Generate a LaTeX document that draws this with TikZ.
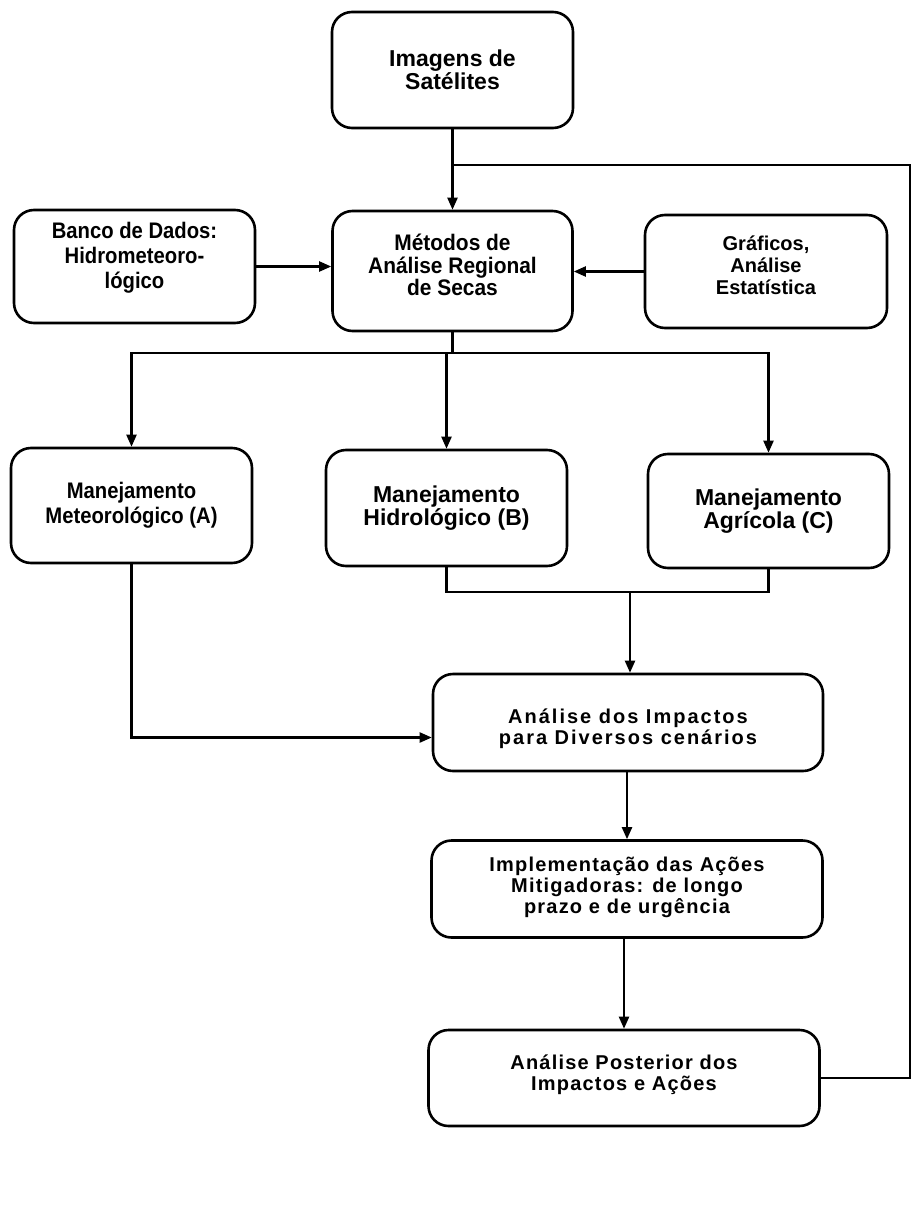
\documentclass[tikz,border=0pt]{standalone}
\usepackage{fontspec}
\setmainfont{Liberation Sans}
\newfontfamily\narrowf{Liberation Sans}[FakeStretch=0.9]
\newfontfamily\metf{Liberation Sans}[FakeStretch=0.93]
\newfontfamily\widef{Liberation Sans}[LetterSpace=6]
\newfontfamily\widerf{Liberation Sans}[LetterSpace=10]
\usetikzlibrary{arrows.meta}
\begin{document}
\begin{tikzpicture}[x=1pt,y=-1pt,
  box/.style={draw,line width=2.6pt,rounded corners=20pt,inner sep=0pt},
  txt/.style={align=center,inner sep=0pt},
  nfont/.style={font=\narrowf\fontsize{22.5}{25}\selectfont\bfseries},
  rfont/.style={font=\fontsize{23}{23}\selectfont\bfseries},
  wfont/.style={font=\widef\fontsize{20}{21}\selectfont\bfseries},
  conn/.style={line width=2.2pt},
  arr/.style={conn,-{Triangle[length=12pt,width=10pt]}},
]
\useasboundingbox (0,0) rectangle (912,1220);

% boxes
\node[box,minimum width=241pt,minimum height=116pt] (sat) at (452.5,70) {};
\node[box,minimum width=241pt,minimum height=113pt] (banco) at (134.5,266.5) {};
\node[box,minimum width=240pt,minimum height=120pt] (met) at (452.5,271) {};
\node[box,minimum width=242pt,minimum height=113pt] (graf) at (766,271.5) {};
\node[box,minimum width=241pt,minimum height=115pt] (meteo) at (131.5,505.5) {};
\node[box,minimum width=241pt,minimum height=116pt] (hidro) at (446.5,508) {};
\node[box,minimum width=241pt,minimum height=114pt] (agri) at (768.5,511) {};
\node[box,minimum width=390pt,minimum height=97pt] (imp) at (628,722.5) {};
\node[box,minimum width=391pt,minimum height=97pt] (impl) at (627,889) {};
\node[box,minimum width=391pt,minimum height=96pt] (post) at (624,1078) {};

% texts
\node[txt,rfont] (satt) at (sat) {Imagens de\\Satélites};
\node[txt,nfont] (bancot) at ([yshift=9pt]banco.center) {Banco de Dados:\\Hidrometeoro-\\lógico};
\node[txt,font=\metf\fontsize{22.5}{22.5}\selectfont\bfseries] (mett) at ([yshift=6pt]met.center) {Métodos de\\Análise Regional\\de Secas};
\node[txt,font=\fontsize{20}{22}\selectfont\bfseries] (graft) at ([yshift=6pt]graf.center) {Gráficos,\\Análise\\Estatística};
\node[txt,nfont] (meteot) at (meteo) {Manejamento\\Meteorológico (A)};
\node[txt,rfont] (hidrot) at (hidro) {Manejamento\\Hidrológico (B)};
\node[txt,rfont] (agrit) at (agri) {Manejamento\\Agrícola (C)};
\node[txt,font=\widerf\fontsize{20}{21}\selectfont\bfseries] (impt) at ([yshift=-6pt]imp.center) {Análise dos Impactos\\para Diversos cenários};
\node[txt,wfont] (implt) at ([yshift=2pt]impl.center) {Implementação das Ações\\Mitigadoras: de longo\\prazo e de urgência};
\node[txt,wfont] (postt) at ([yshift=3pt]post.center) {Análise Posterior dos\\Impactos e Ações};

% junctions
\coordinate (j1) at (452.5,165);
\coordinate (fb) at (910,165);
\coordinate (j2) at (452.5,353);
\coordinate (j3) at (630,592);

% connectors
\draw[arr] (sat.south) -- (met.north);
\draw[conn] (post.east) -| (fb) -- (j1);
\draw[arr] (banco.east) -- (banco.east -| met.west);
\draw[arr] (graf.west) -- (graf.west -| met.east);
\draw[conn] (met.south) -- (j2);
\draw[arr] (j2) -| (meteo.north);
\draw[arr] (j2) -| (agri.north);
\draw[arr] (j2 -| hidro.north) -- (hidro.north);
\draw[conn] (hidro.south) |- (j3) -| (agri.south);
\draw[arr] (j3) -- (j3 |- imp.north);
\draw[arr] (meteo.south) |- ([yshift=-15pt]imp.west);
\draw[arr] (imp.south -| impl.north) -- (impl.north);
\draw[arr] (impl.south -| post.north) -- (post.north);
\end{tikzpicture}
\end{document}
